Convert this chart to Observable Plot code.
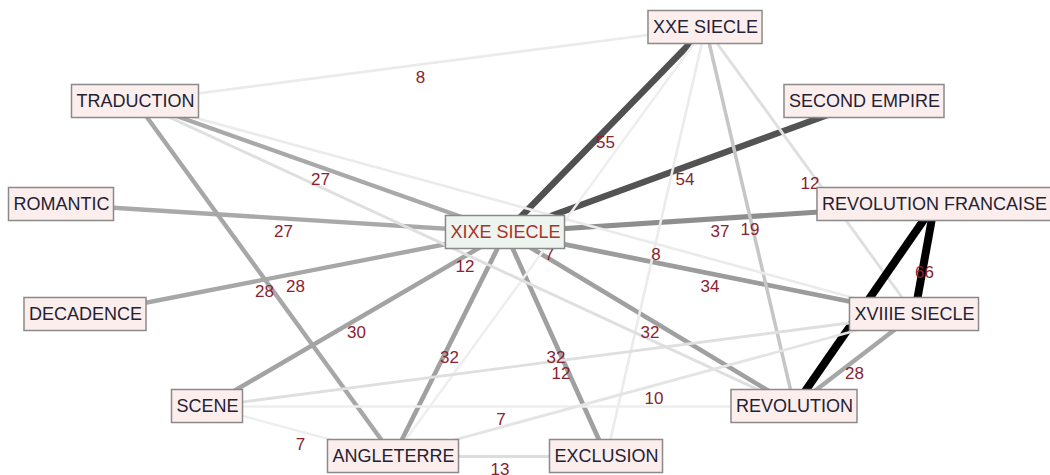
<!DOCTYPE html>
<html>
<head>
<meta charset="utf-8">
<script src="https://cdn.jsdelivr.net/npm/d3@7"></script>
<script src="https://cdn.jsdelivr.net/npm/@observablehq/plot@0.6"></script>
<style>
  html, body { margin: 0; padding: 0; background: #fff; overflow: hidden; }
  #chart svg { display: block; }
</style>
</head>
<body>
<div id="chart"></div>
<script>
// ---- Data ----
const nodeNames = ["XXE SIECLE", "TRADUCTION", "SECOND EMPIRE", "ROMANTIC", "XIXE SIECLE",
  "REVOLUTION FRANCAISE", "DECADENCE", "XVIIIE SIECLE", "SCENE", "REVOLUTION", "ANGLETERRE", "EXCLUSION"];
// layout coordinates of each node (graph layout)
const nodeX = [705, 135, 864, 61, 505, 934, 85, 914, 207, 794, 393, 606];
const nodeY = [27, 101, 101, 204, 232, 204, 314, 314, 406, 406, 456, 456];
const centralNode = "XIXE SIECLE";

const edgeSource = ["XIXE SIECLE", "XIXE SIECLE", "XXE SIECLE", "XIXE SIECLE", "XIXE SIECLE", "XIXE SIECLE",
  "TRADUCTION", "XIXE SIECLE", "XIXE SIECLE", "XIXE SIECLE", "XIXE SIECLE", "XIXE SIECLE", "XIXE SIECLE",
  "XXE SIECLE", "XXE SIECLE", "REVOLUTION FRANCAISE", "REVOLUTION FRANCAISE", "XVIIIE SIECLE",
  "XXE SIECLE", "XXE SIECLE", "TRADUCTION", "TRADUCTION", "SCENE", "SCENE", "ANGLETERRE", "SCENE", "ANGLETERRE"];
const edgeTarget = ["XXE SIECLE", "SECOND EMPIRE", "TRADUCTION", "TRADUCTION", "ROMANTIC", "DECADENCE",
  "ANGLETERRE", "SCENE", "ANGLETERRE", "EXCLUSION", "REVOLUTION", "XVIIIE SIECLE", "REVOLUTION FRANCAISE",
  "REVOLUTION", "XVIIIE SIECLE", "XVIIIE SIECLE", "REVOLUTION", "REVOLUTION",
  "EXCLUSION", "ANGLETERRE", "XVIIIE SIECLE", "REVOLUTION", "XVIIIE SIECLE", "REVOLUTION", "XVIIIE SIECLE", "ANGLETERRE", "EXCLUSION"];
const edgeWeight = [55, 54, 8, 27, 27, 28, 28, 30, 32, 32, 32, 34, 37, 19, 12, 66, 66, 28,
  8, 7, 8, 12, 12, 7, 10, 7, 13];

// ---- Build tables ----
const fontFamily = "'Liberation Sans', Arial, sans-serif";
const ctx = document.createElement("canvas").getContext("2d");
ctx.font = "18px " + fontFamily;
const nodes = nodeNames.map((name, i) => ({
  name, x: nodeX[i], y: nodeY[i], w: ctx.measureText(name).width + 9
}));
const byName = new Map(nodes.map(n => [n.name, n]));
const boxH = 33;
const labelDy = 13;
const edges = edgeSource.map((s, i) => {
  const a = byName.get(s), b = byName.get(edgeTarget[i]);
  return {x1: a.x, y1: a.y, x2: b.x, y2: b.y, mx: (a.x + b.x) / 2, my: (a.y + b.y) / 2, weight: edgeWeight[i]};
});
// labels that fall under a node box are hidden by that box (as in the original graph)
const covered = e => nodes.some(n => Math.abs(e.mx - n.x) < n.w / 2 && Math.abs(e.my + labelDy - n.y) < boxH / 2);
const visibleLabels = edges.filter(e => !covered(e));

const gray = d3.scaleLinear()
  .domain([7, 10, 13, 19, 27, 34, 37, 55, 66])
  .range(["#eeeeee", "#e4e4e4", "#dcdcdc", "#c6c6c6", "#a9a9a9", "#9c9c9c", "#8e8e8e", "#505050", "#000000"])
  .clamp(true);
const thick = d3.scaleLinear()
  .domain([7, 19, 27, 37, 55, 66])
  .range([2.5, 3.5, 4.3, 5, 6.5, 8])
  .clamp(true);

const chart = Plot.plot({
  width: 1050,
  height: 475,
  margin: 0,
  x: {domain: [0, 1050], range: [0, 1050], axis: null},
  y: {domain: [0, 475], range: [0, 475], axis: null},
  color: {type: "identity"},
  style: {background: "#fff", overflow: "hidden"},
  marks: [
    Plot.link(edges, {
      x1: "x1", y1: "y1", x2: "x2", y2: "y2",
      stroke: d => gray(d.weight),
      strokeWidth: d => thick(d.weight),
      strokeLinecap: "butt"
    }),
    Plot.text(visibleLabels, {
      x: "mx", y: "my", dy: labelDy, text: d => String(d.weight),
      fill: "#8b2230", fontSize: 17, fontFamily
    }),
    Plot.rect(nodes, {
      x1: d => d.x - d.w / 2, x2: d => d.x + d.w / 2,
      y1: d => d.y - boxH / 2, y2: d => d.y + boxH / 2,
      fill: d => d.name === centralNode ? "#eef5ee" : "#fdeeee",
      stroke: "#8a8a8a", strokeWidth: 1.5
    }),
    Plot.text(nodes, {
      x: "x", y: "y", text: "name",
      fill: d => d.name === centralNode ? "#a8322c" : "#222233",
      fontSize: 18, fontFamily,
      fontWeight: d => d.name === centralNode ? "bold" : "normal"
    })
  ]
});
document.getElementById("chart").appendChild(chart);
</script>
</body>
</html>
